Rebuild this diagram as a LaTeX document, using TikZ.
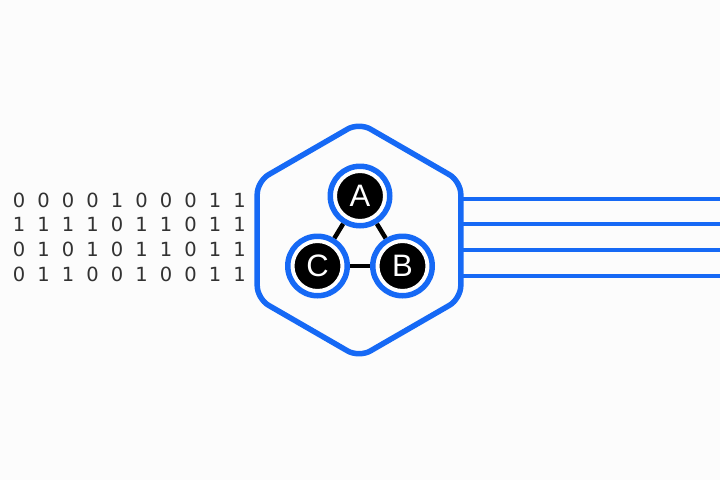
\documentclass[tikz,border=0pt]{standalone}
\usepackage{fontspec}
\setmainfont{DejaVu Sans}
\newfontfamily\letterfont{Liberation Sans}
\usetikzlibrary{calc}
\definecolor{hexblue}{RGB}{22,105,245}
\definecolor{digitgrey}{RGB}{50,50,50}
\definecolor{bgcol}{RGB}{252,252,252}
\begin{document}
\begin{tikzpicture}[x=1pt,y=-1pt,
  digit/.style={text=digitgrey,font=\fontsize{19.5}{20}\selectfont,inner sep=0pt,anchor=center},
  hexline/.style={draw=hexblue,line width=5.5pt,line join=round,rounded corners=13pt},
  wire/.style={draw=hexblue,line width=4pt},
  vertex/.style={circle,fill=black,draw=white,line width=4pt,minimum size=50pt,inner sep=0pt,outer sep=7.5pt,
    text=white,font=\letterfont\fontsize{31}{31}\selectfont},
  ring/.style={draw=hexblue,line width=5.5pt},
  link/.style={draw=black,line width=4.5pt}]
\useasboundingbox (0,0) rectangle (720,480);
\fill[bgcol] (0,0) rectangle (720,480);
% binary digits
\foreach \row [count=\r from 0] in {{0,0,0,0,1,0,0,0,1,1},{1,1,1,1,0,1,1,0,1,1},{0,1,0,1,0,1,1,0,1,1},{0,1,1,0,0,1,0,0,1,1}}{
  \foreach \d [count=\c from 1] in \row {
    \node[digit] (d-\r-\c) at ({-5.5+24.5*\c},{200+24.7*\r}) {\d};
  }
}
% hexagon
\coordinate (hc) at (359,240);
\coordinate (h1) at (359,122.5);
\coordinate (h2) at (460.8,181.25);
\coordinate (h3) at (460.8,298.75);
\coordinate (h4) at (359,357.5);
\coordinate (h5) at (257.2,298.75);
\coordinate (h6) at (257.2,181.25);
% wires
\foreach \y [count=\i] in {198.5,224,250,275.7}{
  \coordinate (ws\i) at (460.8,\y);
  \coordinate (we\i) at (722,\y);
  \draw[wire] (ws\i) -- (we\i);
}
\draw[hexline] (h1) -- (h2) -- (h3) -- (h4) -- (h5) -- (h6) -- cycle;
% vertices
\node[vertex] (A) at (360,196) {A};
\node[vertex] (C) at (317.5,266) {C};
\node[vertex] (B) at (402.5,266) {B};
\foreach \n in {A,B,C}{ \draw[ring] (\n.center) circle[radius=29.75]; }
\draw[link] (A) -- (C);
\draw[link] (A) -- (B);
\draw[link] (C) -- (B);
\end{tikzpicture}
\end{document}
